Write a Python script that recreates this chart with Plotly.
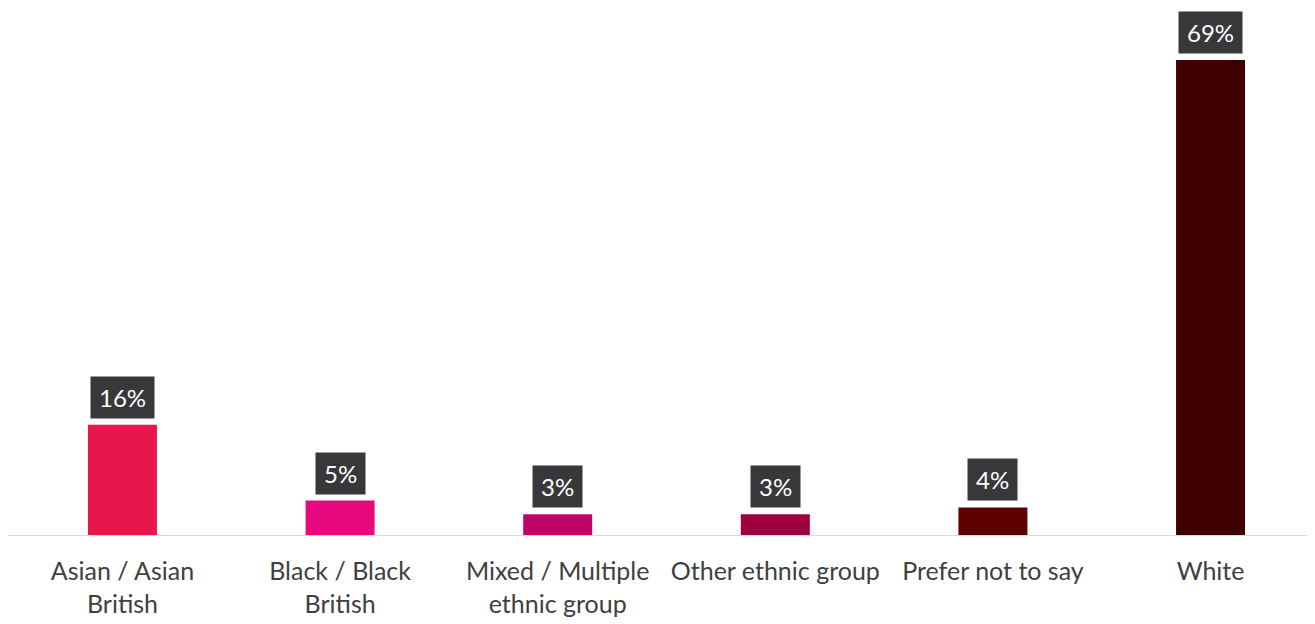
import plotly.graph_objects as go

categories = ["Asian / Asian<br>British", "Black / Black<br>British", "Mixed / Multiple<br>ethnic group",
              "Other ethnic group", "Prefer not to say", "White"]
values = [16, 5, 3, 3, 4, 69]
labels = ["16%", "5%", "3%", "3%", "4%", "69%"]
colors = ["#E8174B", "#E6087C", "#BE0466", "#9E003F", "#5E0000", "#3F0000"]

FONT = "Lato"

fig = go.Figure()
fig.add_trace(go.Bar(x=categories, y=values, marker=dict(color=colors, line=dict(width=0)),
                     width=0.317, hoverinfo="skip"))

for c, v, t in zip(categories, values, labels):
    fig.add_annotation(x=c, y=v, text=t, showarrow=False, yanchor="bottom", yshift=6,
                       bgcolor="#38383A", font=dict(color="white", size=24, family=FONT),
                       borderpad=8, height=25)

fig.update_layout(
    width=1307, height=616,
    margin=dict(l=0, r=0, t=0, b=89),
    paper_bgcolor="white", plot_bgcolor="white",
    showlegend=False,
    font=dict(family=FONT, color="#404040"),
)
fig.update_xaxes(showline=True, linecolor="#D9D9D9", linewidth=1, ticks="", showgrid=False,
                 range=[-0.526, 5.48],
                 tickfont=dict(size=25, color="#404040", family=FONT), ticklabelstandoff=14)
fig.update_yaxes(visible=False, range=[0, 76.55], showgrid=False, zeroline=False)

fig.write_html("out.html")
